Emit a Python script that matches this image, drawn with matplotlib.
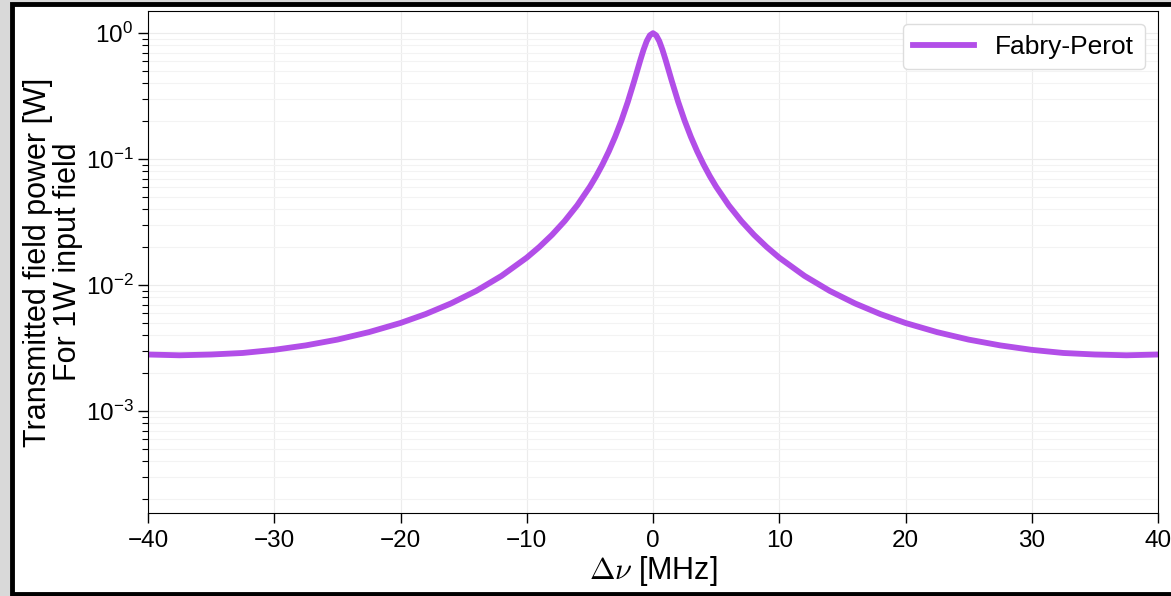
import matplotlib
matplotlib.use("Agg")
import matplotlib.pyplot as plt
from matplotlib.patches import Rectangle

plt.rcParams['font.family'] = ['Liberation Sans', 'DejaVu Sans']
plt.rcParams['mathtext.fontset'] = 'cm'

# detuning [MHz] and transmitted power [W]
detuning = [-40, -37.5, -35, -32.5, -30, -27.5, -25, -22.5, -20, -18, -16, -14, -12,
            -10, -9, -8, -7, -6, -5, -4.5, -4, -3.5, -3, -2.5, -2, -1.5, -1.25, -1,
            -0.75, -0.5, -0.25, 0, 0.25, 0.5, 0.75, 1, 1.25, 1.5, 2, 2.5, 3, 3.5, 4,
            4.5, 5, 6, 7, 8, 9, 10, 12, 14, 16, 18, 20, 22.5, 25, 27.5, 30, 32.5,
            35, 37.5, 40]
power = [0.00281, 0.00277, 0.00281, 0.00289, 0.00306, 0.00332, 0.00369, 0.00423,
         0.00500, 0.00589, 0.00715, 0.00899, 0.01183, 0.01651, 0.02009, 0.02504,
         0.0322, 0.0430, 0.0604, 0.0733, 0.0908, 0.1152, 0.1503, 0.2027, 0.2840,
         0.4133, 0.5035, 0.6130, 0.7379, 0.8636, 0.9620, 1.0, 0.9620, 0.8636,
         0.7379, 0.6130, 0.5035, 0.4133, 0.2840, 0.2027, 0.1503, 0.1152, 0.0908,
         0.0733, 0.0604, 0.0430, 0.0322, 0.02504, 0.02009, 0.01651, 0.01183,
         0.00899, 0.00715, 0.00589, 0.00500, 0.00423, 0.00369, 0.00332, 0.00306,
         0.00289, 0.00281, 0.00277, 0.00281]

fig = plt.figure(figsize=(11.71, 5.96), dpi=100, facecolor='#d9d9d9')
# white panel with a black frame (screenshot look)
fig.patches.append(Rectangle((12 / 1171, 2 / 596), 1.05, 1.0 - 6 / 596,
                             transform=fig.transFigure, facecolor='white',
                             edgecolor='black', linewidth=3.5, zorder=-1))

ax = fig.add_axes([148 / 1171, 1 - 513 / 596, 1010 / 1171, 502 / 596])
ax.plot(detuning, power, color='#b24ee8', lw=4.2, label='Fabry-Perot')
ax.set_yscale('log')
ax.set_xlim(-40, 40)
ax.set_ylim(1.55e-4, 1.5)
ax.set_yticks([1e-3, 1e-2, 1e-1, 1])

ax.grid(True, which='major', color='#ececec', lw=0.8)
ax.grid(True, which='minor', axis='y', color='#f3f3f3', lw=0.8)
ax.set_axisbelow(True)

ax.tick_params(axis='both', which='major', labelsize=17.5, length=7, width=1)
ax.tick_params(axis='x', which='major', pad=5)
ax.tick_params(axis='y', which='minor', length=4, width=0.8)

ax.set_xlabel(r'$\Delta\nu$ [MHz]', fontsize=22, labelpad=2)
ax.set_ylabel('Transmitted field power [W]\nFor 1W input field', fontsize=22,
              labelpad=2, linespacing=0.97)

leg = ax.legend(loc='upper right', fontsize=19, handlelength=2.3,
                borderpad=0.4, framealpha=1, edgecolor='#dddddd', fancybox=True)

fig.savefig('out.png', dpi=100, facecolor=fig.get_facecolor())
